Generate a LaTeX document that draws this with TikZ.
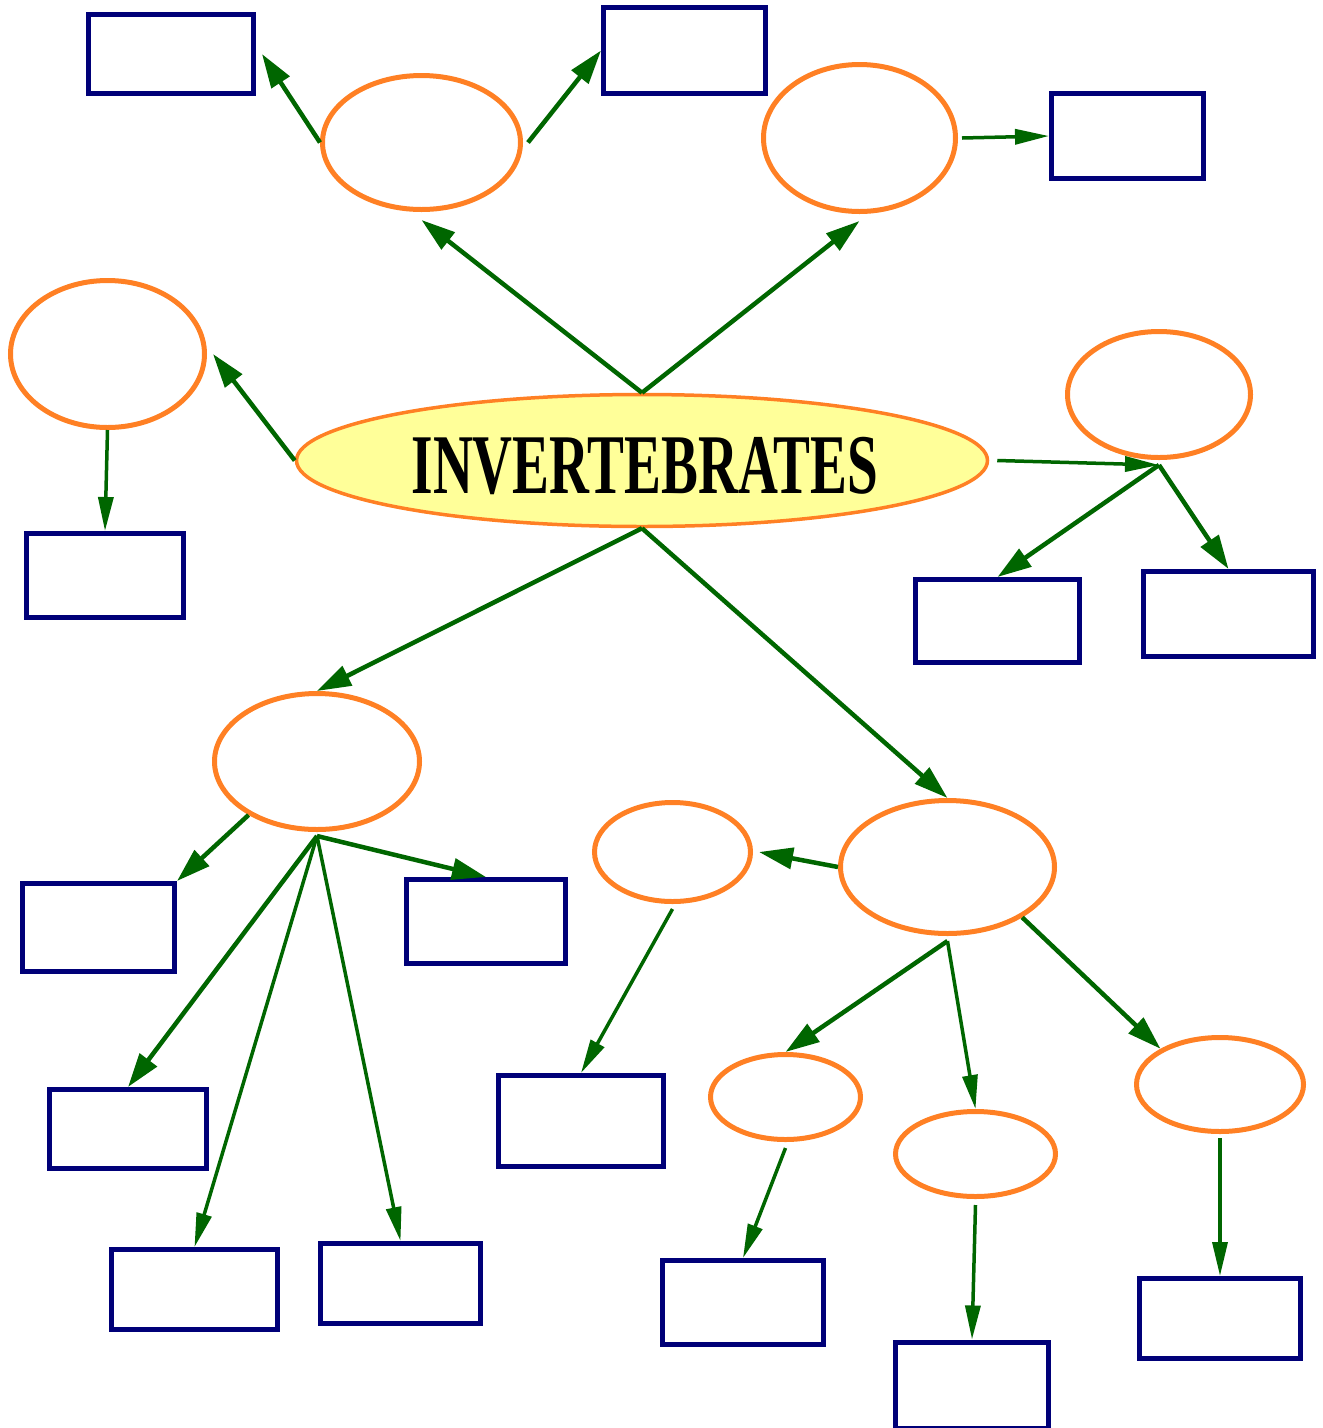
\documentclass[tikz,border=0pt]{standalone}
\usepackage{fontspec}
\usepackage{graphicx}
\setmainfont{Liberation Serif}
\usetikzlibrary{shapes.geometric,arrows.meta}
\definecolor{ornge}{RGB}{255,128,36}
\definecolor{dgreen}{RGB}{0,102,0}
\definecolor{navyb}{RGB}{0,0,120}
\definecolor{paleyel}{RGB}{255,255,153}
\tikzset{
  oval/.style={ellipse,draw=ornge,line width=5pt,inner sep=0pt},
  box/.style={rectangle,draw=navyb,line width=5pt,inner sep=0pt},
  thickarr/.style={draw=dgreen,line width=4.5pt,-{Triangle[length=34pt,width=21pt]}},
  thinarr/.style={draw=dgreen,line width=3.5pt,-{Triangle[length=34pt,width=15pt]}},
}
\begin{document}
\begin{tikzpicture}[x=1pt,y=-1pt]
\useasboundingbox (0,0) rectangle (1323,1428);
\clip (0,0) rectangle (1323,1428);
% ellipses
\node[oval,fill=paleyel,line width=3.5pt,minimum width=691pt,minimum height=132pt] (C) at (642,460.5)
  {\raisebox{-5pt}[\height][0pt]{\hspace*{6pt}\scalebox{0.65}[1]{\fontsize{85pt}{85pt}\selectfont\bfseries INVERTEBRATES}}};
\node[oval,minimum width=198pt,minimum height=134pt] (E1) at (421.5,142.5) {};
\node[oval,minimum width=192pt,minimum height=147pt] (E2) at (859.5,138) {};
\node[oval,minimum width=194pt,minimum height=147pt] (E3) at (107.5,354) {};
\node[oval,minimum width=183pt,minimum height=126pt] (E4) at (1159,394.5) {};
\node[oval,minimum width=205pt,minimum height=136pt] (E5) at (317,761.5) {};
\node[oval,minimum width=156pt,minimum height=99pt] (E6) at (672.5,852) {};
\node[oval,minimum width=214pt,minimum height=133pt] (E7) at (947.5,867) {};
\node[oval,minimum width=150pt,minimum height=85pt] (E8) at (785.5,1097) {};
\node[oval,minimum width=160pt,minimum height=85pt] (E9) at (975.5,1154) {};
\node[oval,minimum width=167pt,minimum height=94pt] (E10) at (1220,1084.5) {};
% boxes
\node[box,minimum width=165pt,minimum height=79pt] (R1) at (171,54) {};
\node[box,minimum width=162pt,minimum height=86pt] (R2) at (684.5,50.5) {};
\node[box,minimum width=152pt,minimum height=85pt] (R3) at (1127.5,136) {};
\node[box,minimum width=157pt,minimum height=84pt] (R4) at (105,575.5) {};
\node[box,minimum width=164pt,minimum height=83pt] (R5) at (997.5,621) {};
\node[box,minimum width=170pt,minimum height=85pt] (R6) at (1228.5,614) {};
\node[box,minimum width=152pt,minimum height=88pt] (R7) at (98.5,927.5) {};
\node[box,minimum width=159pt,minimum height=84pt] (R8) at (486,921.5) {};
\node[box,minimum width=157pt,minimum height=79pt] (R9) at (128,1129) {};
\node[box,minimum width=165pt,minimum height=91pt] (R10) at (581,1121) {};
\node[box,minimum width=166pt,minimum height=80pt] (R11) at (194.5,1289.5) {};
\node[box,minimum width=160pt,minimum height=80pt] (R12) at (400.5,1283.5) {};
\node[box,minimum width=161pt,minimum height=84pt] (R13) at (743,1302.5) {};
\node[box,minimum width=153pt,minimum height=86pt] (R14) at (972,1385) {};
\node[box,minimum width=161pt,minimum height=80pt] (R15) at (1220,1318.5) {};
% connectors
\draw[thickarr] (C.north) -- ([yshift=-8pt]E1.south);
\draw[thickarr] (C.north) -- ([yshift=-7pt]E2.south);
\draw[thickarr] (C.west) -- ([xshift=6pt]E3.east);
\draw[thinarr] (E3.south) -- (R4.north);
\draw[thinarr] ([xshift=8pt]C.east) -- ([yshift=-5pt]E4.south);
\draw[thickarr] ([yshift=-5pt]E4.south) -- (R5.north);
\draw[thickarr] ([yshift=-5pt]E4.south) -- (R6.north);
\draw[thickarr] (C.south) -- (E5.north);
\draw[thickarr] (C.south) -- (E7.north);
\draw[thickarr] (E1.west) -- ([xshift=6pt]R1.east);
\draw[thickarr] ([xshift=5pt]E1.east) -- (R2.west);
\draw[thinarr] ([xshift=4pt]E2.east) -- (R3.west);
\draw[thickarr] (E5.218) -- (R7.north east);
\draw[thickarr] ([yshift=-4pt]E5.south) -- (R8.north);
\draw[thickarr] ([yshift=-4pt]E5.south) -- (R9.north);
\draw[thinarr] ([yshift=-4pt]E5.south) -- (R11.north);
\draw[thinarr] ([yshift=-4pt]E5.south) -- (R12.north);
\draw[thickarr] (E7.west) -- ([xshift=6pt]E6.east);
\draw[thinarr] ([yshift=-5pt]E6.south) -- (R10.north);
\draw[thickarr] ([yshift=-5pt]E7.south) -- (E8.north);
\draw[thinarr] ([yshift=-5pt]E7.south) -- (E9.north);
\draw[thickarr] (E7.326) -- (E10.149);
\draw[thinarr] ([yshift=-6pt]E8.south) -- (R13.north);
\draw[thinarr] ([yshift=-6pt]E9.south) -- (R14.north);
\draw[thinarr] ([yshift=-4pt]E10.south) -- (R15.north);
\end{tikzpicture}
\end{document}
